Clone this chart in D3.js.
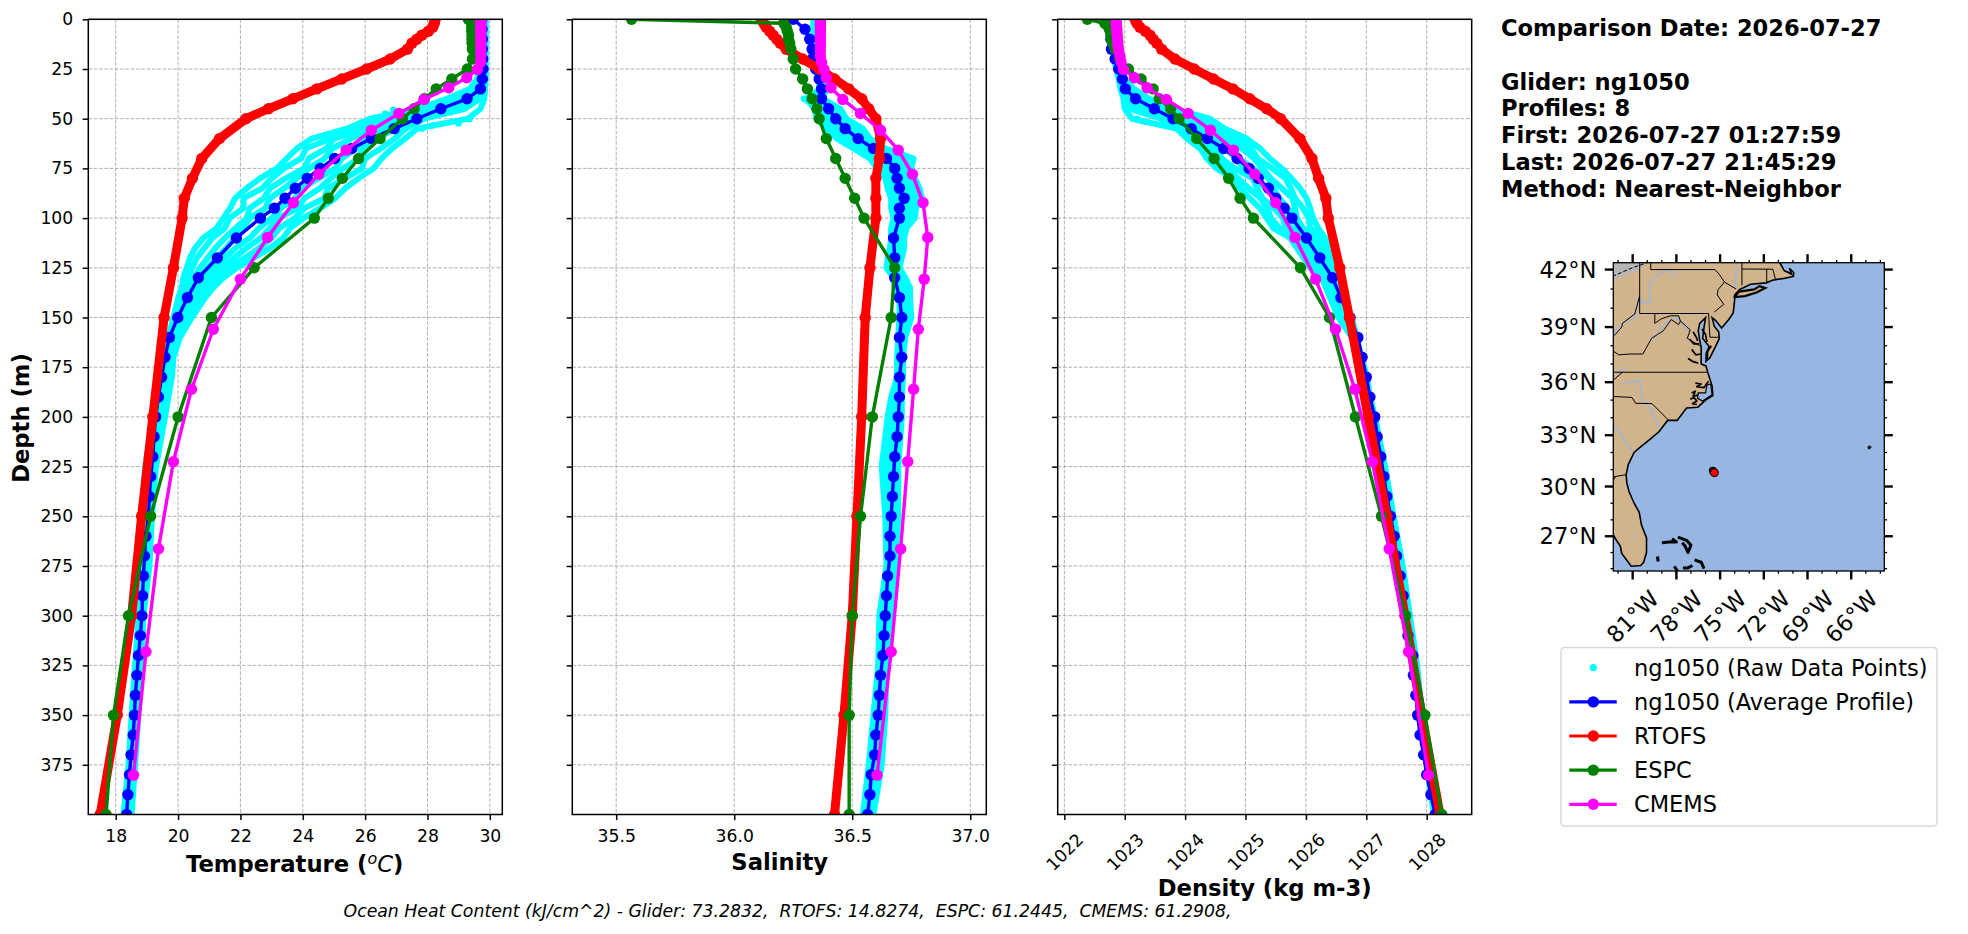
<!DOCTYPE html>
<html>
<head>
<meta charset="utf-8">
<script src="https://d3js.org/d3.v7.min.js"></script>
<style>
  body { margin: 0; background: #fff; }
  text { font-family: "DejaVu Sans", sans-serif; fill: #000; }
  .grid line { stroke: #b0b0b0; stroke-width: 1; stroke-dasharray: 3.7 1.6; }
  .tick line, .domain { stroke: #000; stroke-width: 1.5; }
</style>
</head>
<body>
<div id="chart"></div>
<script>
// glider average profile
var gliderDepth = [0,5,10,15,20,25,30,35,40,45,50,55,60,65,70,75,80,85,90,95,100,110,120,130,140,150,160,170,180,190,200,210,220,230,240,250,260,270,280,290,300,310,320,330,340,350,360,370,380,390,400];
var gliderTemp = [29.74,29.75,29.76,29.76,29.77,29.78,29.76,29.7,29.27,28.43,27.66,26.93,26.2,25.57,25.02,24.56,24.14,23.76,23.43,23.09,22.64,21.87,21.26,20.65,20.3,19.99,19.72,19.58,19.47,19.37,19.28,19.23,19.19,19.12,19.08,19.05,18.97,18.92,18.89,18.86,18.84,18.79,18.73,18.68,18.63,18.6,18.56,18.49,18.44,18.39,18.35];
var gliderSal = [36.25,36.3,36.32,36.33,36.33,36.345,36.36,36.37,36.37,36.4,36.43,36.47,36.525,36.59,36.645,36.68,36.69,36.7,36.72,36.7,36.7,36.675,36.68,36.68,36.7,36.71,36.7,36.71,36.7,36.7,36.695,36.69,36.68,36.675,36.67,36.665,36.66,36.66,36.65,36.645,36.64,36.635,36.63,36.62,36.615,36.61,36.6,36.595,36.58,36.575,36.565];
var gliderDens = [1022.75,1022.76,1022.77,1022.78,1022.84,1022.9,1022.96,1023.01,1023.18,1023.49,1023.8,1024.1,1024.37,1024.64,1024.86,1025.06,1025.21,1025.38,1025.5,1025.64,1025.77,1026.01,1026.23,1026.44,1026.58,1026.73,1026.86,1026.93,1027,1027.06,1027.14,1027.18,1027.24,1027.29,1027.34,1027.4,1027.46,1027.5,1027.56,1027.61,1027.65,1027.69,1027.77,1027.78,1027.82,1027.85,1027.89,1027.95,1028,1028.07,1028.14];

// RTOFS and ESPC share depth levels
var modelDepth = [0,2,4,6,8,10,12,15,20,25,30,35,40,45,50,60,70,80,90,100,125,150,200,250,300,350,400];
var rtofsTemp = [28.25,28.22,28.17,28.03,27.82,27.66,27.5,27.36,26.8,26.05,25.25,24.45,23.68,22.9,22.18,21.33,20.76,20.46,20.2,20.13,19.85,19.55,19.19,18.83,18.51,18.05,17.5];
var rtofsSal = [36.115,36.125,36.135,36.15,36.165,36.18,36.195,36.22,36.29,36.36,36.425,36.485,36.54,36.57,36.6,36.62,36.615,36.6,36.6,36.6,36.575,36.555,36.54,36.52,36.5,36.465,36.425];
var rtofsDens = [1023.17,1023.2,1023.25,1023.34,1023.42,1023.47,1023.53,1023.61,1023.83,1024.15,1024.47,1024.79,1025.07,1025.35,1025.58,1025.9,1026.1,1026.21,1026.33,1026.37,1026.56,1026.72,1027.03,1027.34,1027.64,1027.92,1028.22];
var espcTemp = [29.31,29.42,29.42,29.42,29.43,29.43,29.43,29.44,29.44,29.28,28.78,28.28,27.9,27.57,27.2,26.48,25.79,25.27,24.82,24.37,22.44,21.07,20,19.12,18.41,17.93,17.69];
var espcSal = [35.565,36.21,36.22,36.225,36.23,36.23,36.235,36.24,36.25,36.26,36.29,36.31,36.33,36.35,36.36,36.39,36.43,36.47,36.51,36.55,36.68,36.665,36.585,36.535,36.5,36.487,36.487];
var espcDens = [1022.38,1022.67,1022.73,1022.76,1022.77,1022.78,1022.8,1022.84,1022.92,1023.06,1023.27,1023.47,1023.57,1023.76,1023.9,1024.19,1024.48,1024.72,1024.91,1025.13,1025.91,1026.39,1026.82,1027.25,1027.65,1027.97,1028.25];

// CMEMS
var cmemsDepth = [0.5,1.5,2.6,3.8,5.1,6.4,7.9,9.6,11.4,13.5,15.8,18.5,21.6,25.2,29.4,34.4,40.3,47.4,55.8,65.8,77.9,92.3,109.7,130.7,155.9,186.1,222.5,266.4,318.1,380.2];
var cmemsTemp = [29.71,29.71,29.71,29.71,29.71,29.71,29.71,29.71,29.71,29.71,29.71,29.71,29.7,29.6,29.26,28.68,27.89,27.08,26.2,25.39,24.51,23.7,22.87,22,21.13,20.43,19.85,19.37,18.97,18.57];
var cmemsSal = [36.365,36.365,36.365,36.365,36.365,36.365,36.365,36.365,36.365,36.365,36.365,36.365,36.37,36.38,36.39,36.41,36.46,36.535,36.62,36.695,36.755,36.8,36.82,36.805,36.78,36.76,36.735,36.705,36.665,36.605];
var cmemsDens = [1022.855,1022.86,1022.86,1022.865,1022.87,1022.87,1022.875,1022.88,1022.885,1022.89,1022.9,1022.92,1022.94,1022.98,1023.16,1023.37,1023.69,1024.05,1024.42,1024.8,1025.15,1025.5,1025.82,1026.16,1026.49,1026.81,1027.1,1027.38,1027.7,1028.03];

// raw glider samples, one row per depth, one column per profile
var rawDepth = [0,10,20,30,35,40,45,50,55,60,65,70,75,80,85,90,95,100,105,110,115,120,125,130,135,140,150,160,170,180,190,200,225,250,275,300,325,350,375,400];
var rawTemp = [
  [29.72,29.75,29.78,29.8,29.82,29.84,29.85,29.87],
  [29.71,29.74,29.77,29.8,29.82,29.84,29.86,29.87],
  [29.7,29.73,29.76,29.79,29.81,29.83,29.85,29.87],
  [29.6,29.72,29.76,29.78,29.8,29.82,29.85,29.87],
  [29.35,29.45,29.55,29.62,29.72,29.78,29.82,29.85],
  [28.62,28.8,29,29.2,29.35,29.5,29.68,29.82],
  [27.7,27.9,28.1,28.3,28.5,28.8,29.2,29.7],
  [26.16,26.5,26.85,27.1,27.4,27.65,27.9,29.3],
  [25.41,25.7,26,26.25,26.7,27,27.3,27.66],
  [24.29,24.9,25,25.55,26.1,26.35,26.95,27.28],
  [23.81,24.1,24.75,24.95,25.7,25.9,26.5,26.86],
  [23.49,23.95,24.2,24.7,25.25,25.8,26,26.53],
  [23.17,23.4,24.05,24.2,25.05,25.3,25.9,26.27],
  [22.63,23,23.45,23.8,24.5,24.9,25.35,25.79],
  [22.2,22.7,22.95,23.4,24,24.55,24.8,25.36],
  [21.83,22.1,22.75,22.95,23.75,24.05,24.7,25.04],
  [21.67,22.1,22.3,22.8,23.3,23.85,24.05,24.56],
  [21.45,21.65,22.2,22.3,23,23.2,23.75,24.02],
  [21.24,21.5,21.85,22.1,22.6,22.95,23.25,23.59],
  [20.81,21.1,21.5,21.8,22.3,22.65,23,23.38],
  [20.55,20.85,21.2,21.55,21.85,22.2,22.6,22.95],
  [20.38,20.6,20.95,21.25,21.5,21.8,22.15,22.42],
  [20.28,20.45,20.7,20.95,21.15,21.4,21.65,21.88],
  [20.17,20.33,20.52,20.7,20.87,21.05,21.25,21.45],
  [20.12,20.25,20.4,20.52,20.66,20.8,20.97,21.13],
  [20.01,20.12,20.25,20.37,20.48,20.6,20.73,20.87],
  [19.85,19.92,20.02,20.1,20.17,20.26,20.35,20.44],
  [19.69,19.74,19.79,19.85,19.89,19.95,20,20.06],
  [19.58,19.61,19.66,19.69,19.73,19.77,19.81,19.85],
  [19.48,19.52,19.57,19.61,19.66,19.7,19.75,19.8],
  [19.37,19.41,19.46,19.5,19.55,19.6,19.64,19.69],
  [19.21,19.26,19.31,19.37,19.41,19.47,19.53,19.58],
  [18.94,18.98,19.04,19.09,19.13,19.18,19.24,19.29],
  [18.83,18.87,18.92,18.97,19.01,19.06,19.11,19.16],
  [18.83,18.86,18.9,18.94,18.97,19,19.04,19.08],
  [18.73,18.75,18.77,18.8,18.82,18.84,18.87,18.89],
  [18.62,18.65,18.68,18.71,18.73,18.76,18.8,18.83],
  [18.51,18.54,18.57,18.6,18.63,18.66,18.7,18.73],
  [18.41,18.44,18.47,18.5,18.53,18.56,18.59,18.62],
  [18.25,18.29,18.33,18.36,18.4,18.43,18.47,18.51]
];
var rawSal = [
  [36.335,36.34,36.345,36.35,36.355,36.36,36.365,36.37],
  [36.335,36.34,36.345,36.35,36.355,36.36,36.365,36.37],
  [36.34,36.345,36.35,36.352,36.355,36.36,36.365,36.37],
  [36.355,36.357,36.36,36.362,36.365,36.367,36.37,36.372],
  [36.365,36.368,36.37,36.375,36.378,36.382,36.386,36.39],
  [36.305,36.32,36.33,36.34,36.35,36.36,36.368,36.375],
  [36.34,36.355,36.37,36.385,36.4,36.42,36.435,36.45],
  [36.35,36.37,36.39,36.41,36.425,36.445,36.46,36.475],
  [36.39,36.41,36.43,36.455,36.475,36.5,36.525,36.545],
  [36.435,36.455,36.475,36.495,36.515,36.535,36.555,36.575],
  [36.505,36.525,36.545,36.565,36.585,36.605,36.625,36.64],
  [36.575,36.6,36.625,36.65,36.675,36.7,36.73,36.76],
  [36.605,36.625,36.645,36.665,36.69,36.71,36.73,36.75],
  [36.64,36.655,36.67,36.685,36.7,36.72,36.745,36.765],
  [36.65,36.67,36.685,36.7,36.72,36.74,36.76,36.785],
  [36.665,36.68,36.7,36.715,36.735,36.755,36.775,36.795],
  [36.665,36.68,36.695,36.71,36.725,36.74,36.755,36.77],
  [36.675,36.69,36.7,36.715,36.725,36.74,36.75,36.765],
  [36.665,36.675,36.68,36.69,36.7,36.71,36.72,36.73],
  [36.665,36.67,36.68,36.685,36.695,36.705,36.71,36.72],
  [36.66,36.67,36.675,36.685,36.69,36.7,36.71,36.72],
  [36.65,36.66,36.665,36.675,36.68,36.69,36.7,36.71],
  [36.645,36.65,36.66,36.665,36.675,36.68,36.69,36.7],
  [36.675,36.68,36.685,36.69,36.695,36.7,36.71,36.725],
  [36.68,36.69,36.695,36.7,36.71,36.72,36.735,36.745],
  [36.7,36.705,36.71,36.715,36.72,36.73,36.74,36.745],
  [36.7,36.705,36.71,36.72,36.725,36.735,36.745,36.75],
  [36.695,36.7,36.7,36.705,36.71,36.715,36.72,36.725],
  [36.69,36.695,36.695,36.7,36.7,36.705,36.71,36.715],
  [36.69,36.695,36.695,36.7,36.7,36.705,36.71,36.715],
  [36.665,36.67,36.68,36.685,36.69,36.695,36.7,36.71],
  [36.65,36.66,36.665,36.675,36.68,36.69,36.7,36.71],
  [36.625,36.635,36.645,36.655,36.665,36.675,36.685,36.695],
  [36.64,36.645,36.655,36.66,36.67,36.675,36.685,36.695],
  [36.645,36.65,36.655,36.66,36.665,36.67,36.675,36.68],
  [36.615,36.62,36.625,36.635,36.64,36.645,36.655,36.66],
  [36.61,36.615,36.62,36.625,36.63,36.635,36.64,36.645],
  [36.59,36.6,36.605,36.61,36.62,36.625,36.63,36.64],
  [36.57,36.58,36.585,36.595,36.6,36.61,36.615,36.625],
  [36.545,36.55,36.555,36.565,36.57,36.575,36.585,36.59]
];
var rawDens = [
  [1022.78,1022.79,1022.8,1022.81,1022.82,1022.83,1022.83,1022.84],
  [1022.79,1022.8,1022.81,1022.82,1022.83,1022.84,1022.85,1022.86],
  [1022.82,1022.83,1022.84,1022.85,1022.86,1022.87,1022.88,1022.9],
  [1022.9,1022.91,1022.93,1022.94,1022.95,1022.97,1022.98,1023],
  [1022.93,1022.95,1022.98,1023,1023.04,1023.08,1023.12,1023.15],
  [1022.98,1023.02,1023.07,1023.13,1023.2,1023.27,1023.33,1023.4],
  [1023,1023.08,1023.2,1023.32,1023.44,1023.56,1023.68,1023.8],
  [1023.12,1023.6,1023.85,1024,1024.1,1024.2,1024.3,1024.41],
  [1023.86,1023.97,1024.08,1024.2,1024.31,1024.42,1024.54,1024.66],
  [1024.03,1024.17,1024.31,1024.45,1024.58,1024.72,1024.87,1025.02],
  [1024.25,1024.39,1024.53,1024.66,1024.8,1024.94,1025.09,1025.24],
  [1024.36,1024.55,1024.6,1024.85,1024.9,1025.14,1025.2,1025.4],
  [1024.52,1024.67,1024.82,1024.97,1025.12,1025.28,1025.44,1025.6],
  [1024.8,1024.88,1025.12,1025.15,1025.38,1025.42,1025.66,1025.76],
  [1024.91,1025.05,1025.19,1025.33,1025.46,1025.6,1025.75,1025.9],
  [1025.07,1025.25,1025.28,1025.5,1025.56,1025.78,1025.82,1026.01],
  [1025.24,1025.36,1025.47,1025.59,1025.7,1025.82,1025.95,1026.07],
  [1025.35,1025.42,1025.62,1025.63,1025.82,1025.85,1026.05,1026.12],
  [1025.46,1025.56,1025.66,1025.76,1025.85,1025.95,1026.07,1026.2],
  [1025.74,1025.82,1025.9,1025.98,1026.06,1026.14,1026.23,1026.32],
  [1025.85,1025.92,1026,1026.07,1026.14,1026.21,1026.29,1026.37],
  [1025.96,1026.03,1026.09,1026.16,1026.22,1026.29,1026.36,1026.43],
  [1026.07,1026.13,1026.18,1026.24,1026.3,1026.36,1026.42,1026.48],
  [1026.26,1026.29,1026.33,1026.36,1026.4,1026.43,1026.47,1026.51],
  [1026.33,1026.36,1026.39,1026.43,1026.46,1026.49,1026.53,1026.56],
  [1026.4,1026.43,1026.46,1026.49,1026.52,1026.55,1026.59,1026.62],
  [1026.54,1026.57,1026.6,1026.63,1026.66,1026.69,1026.73,1026.76],
  [1026.76,1026.77,1026.78,1026.8,1026.81,1026.82,1026.83,1026.84],
  [1026.87,1026.88,1026.885,1026.89,1026.9,1026.905,1026.91,1026.92],
  [1026.98,1026.985,1026.99,1026.99,1026.995,1027,1027,1027.01],
  [1027.03,1027.035,1027.04,1027.045,1027.05,1027.05,1027.055,1027.06],
  [1027.12,1027.12,1027.125,1027.13,1027.13,1027.135,1027.14,1027.14],
  [1027.28,1027.285,1027.29,1027.29,1027.295,1027.3,1027.3,1027.31],
  [1027.42,1027.425,1027.43,1027.43,1027.435,1027.44,1027.445,1027.45],
  [1027.58,1027.58,1027.585,1027.59,1027.59,1027.595,1027.6,1027.6],
  [1027.68,1027.685,1027.69,1027.7,1027.705,1027.71,1027.715,1027.72],
  [1027.8,1027.805,1027.81,1027.82,1027.825,1027.83,1027.835,1027.84],
  [1027.88,1027.885,1027.89,1027.9,1027.905,1027.91,1027.915,1027.92],
  [1028,1028.005,1028.01,1028.02,1028.025,1028.03,1028.035,1028.04],
  [1028.12,1028.125,1028.13,1028.14,1028.145,1028.15,1028.155,1028.16]
];

// lone raw dots off the strands
var strayDepthT = [52.4,50.3,53.3,55,47.4,45.5];
var strayTemp = [29,29.35,28.19,27.82,26.64,26.9];
var strayDepthS = [40,41];
var straySal = [36.295,36.31];
var strayDepthD = [50,51.5,52.7];
var strayDens = [1023.21,1023.35,1023.64];

var depthTicks = [0,25,50,75,100,125,150,175,200,225,250,275,300,325,350,375];
var tempTicks = [18,20,22,24,26,28,30];
var salTicks = [35.5,36,36.5,37];
var densTicks = [1022,1023,1024,1025,1026,1027,1028];

var infoLines = ["Comparison Date: 2026-07-27","","Glider: ng1050","Profiles: 8","First: 2026-07-27 01:27:59","Last: 2026-07-27 21:45:29","Method: Nearest-Neighbor"];
var ohcText = "Ocean Heat Content (kJ/cm^2) - Glider: 73.2832,  RTOFS: 14.8274,  ESPC: 61.2445,  CMEMS: 61.2908,";
var legendLabels = ["ng1050 (Raw Data Points)","ng1050 (Average Profile)","RTOFS","ESPC","CMEMS"];
var legendColors = ["#00ffff","#0000ff","#ff0000","#008000","#ff00ff"];

// map features, lon/lat
var lonTicks = [-81,-78,-75,-72,-69,-66];
var latTicks = [27,30,33,36,39,42];
var landOutline = [[-83,43],[-70.9,43],[-70.9,42.35],[-70.6,41.95],[-70.1,41.77],[-70.25,42.07],[-69.95,41.85],[-69.97,41.65],[-70.6,41.55],[-71.1,41.5],[-71.4,41.45],[-71.85,41.32],[-72.9,41.25],[-73.65,40.98],[-74,40.7],[-74,40.45],[-74.1,39.75],[-74.4,39.4],[-74.9,38.95],[-75.3,39.35],[-75.55,39.5],[-75.4,39.05],[-75.1,38.75],[-75.05,38.4],[-75.35,37.9],[-75.7,37.35],[-75.97,37.15],[-75.95,37.6],[-75.75,37.95],[-76.2,38.4],[-76.1,39],[-76,39.5],[-76.4,39.2],[-76.5,38.8],[-76.4,38.3],[-76.3,37.9],[-76.3,37.5],[-76.3,37],[-75.97,36.9],[-75.85,36.55],[-75.55,35.8],[-75.5,35.25],[-76,35],[-76.53,34.6],[-77.3,34.55],[-77.95,33.85],[-78.6,33.85],[-79.2,33.2],[-79.9,32.7],[-80.5,32.3],[-80.9,32],[-81.3,31.3],[-81.45,30.7],[-81.4,30.2],[-81.25,29.7],[-80.9,29],[-80.55,28.45],[-80.4,27.7],[-80.05,26.9],[-80.05,26],[-80.25,25.4],[-80.45,25.2],[-81.1,25.15],[-81.75,25.95],[-81.85,26.4],[-82.15,26.8],[-82.45,27.3],[-82.8,27.9],[-83,28.5]];
var longIsland = [[-74,40.6],[-73.7,40.87],[-72.65,40.98],[-72.3,41.15],[-71.9,41.05],[-72.5,40.82],[-73.3,40.63],[-74,40.58]];
var pamlico = [[-75.65,35.9],[-75.55,35.3],[-76.2,34.95],[-76.55,35.1],[-76.5,35.4],[-76,35.4],[-75.9,35.85]];
var lakeErie = [[-83,42.5],[-79.85,42.5],[-80.5,42],[-83,41.3]];
var okeechobee = [[-80.95,27.1],[-80.75,26.95],[-80.85,26.75],[-81.05,26.9]];
var borders = [
  [[-80.52,42.5],[-80.52,39.72],[-75.79,39.72],[-75.7,38.46],[-75.05,38.45]],
  [[-79.76,42.35],[-79.76,42],[-75.35,42],[-75.05,41.75],[-74.7,41.36],[-75.13,40.98],[-75.2,40.7],[-74.75,40.2],[-75.4,39.8]],
  [[-74.7,41.36],[-73.9,41]],
  [[-73.5,42.5],[-73.5,41.2]],
  [[-73.5,42.03],[-71.38,42.02],[-71.2,41.5]],
  [[-71.8,42.03],[-71.8,41.3]],
  [[-80.52,40.64],[-80.85,39.7],[-81.7,39.2],[-81.75,39],[-82.2,38.6],[-82.6,38.4]],
  [[-82.4,37.75],[-81.95,37.5],[-81.2,37.55],[-80.3,37.55],[-79.7,38.4],[-79.3,38.6],[-78.9,38.8],[-78.35,39.4],[-77.85,39.13],[-77.72,39.32]],
  [[-79.48,39.72],[-79.48,39.2],[-79,39.45],[-78.4,39.6],[-77.85,39.6],[-77.72,39.32],[-77.05,38.85],[-77.25,38.4],[-76.3,37.95]],
  [[-83,36.55],[-75.9,36.55]],
  [[-82.35,36.1],[-81.7,36.55]],
  [[-83.1,35],[-82.3,35.2],[-81.05,35.15],[-80.8,34.82],[-79.67,34.8],[-78.55,33.87]],
  [[-82.35,30.57],[-81.45,30.7]],
  [[-82.3,30.4],[-82.2,30.57]]
];
var rivers = [
  [[-77.98,41.64],[-78.55,42],[-79.12,41.82],[-79.81,41.38],[-79.81,40.3],[-80.38,40.3],[-80.61,40.57],[-80.84,39.5],[-81.64,39.23],[-82.2,38.8],[-82.33,38.43]],
  [[-73.86,42.3],[-73.97,41.1]],
  [[-79.7,38.25],[-79.12,38.87],[-78.44,39.4],[-77.98,39.5],[-77.18,38.8]],
  [[-81.64,35.92],[-80.5,36.1],[-80.38,35.07],[-79.92,34.7],[-79.12,33.38]],
  [[-82.33,36.46],[-81.53,36.77]],
  [[-82.33,33.66],[-81,32.04]]
];
var erieDash = [[-82.4,41.65],[-81,42.1],[-80,42.35]];
var islands = [
  [[-79,26.6],[-78.5,26.65],[-78,26.65],[-78.3,26.85]],
  [[-77.9,26.95],[-77.3,26.75],[-77,26.45],[-77.2,26],[-77.4,26.4],[-77.6,26.6]],
  [[-79.3,25.75],[-79.25,25.45]],
  [[-78.15,25.15],[-77.95,24.9],[-78.1,24.7]],
  [[-77.55,25.05],[-77.2,25.05],[-76.9,25.2]],
  [[-76.75,25.55],[-76.3,25.4],[-76.1,25]],
  [[-64.85,32.25],[-64.65,32.35]]
];
var estuaries = [
  [[-76.7,35.95],[-76.3,35.9],[-76.6,35.75],[-76.1,35.7],[-75.8,36.05]],
  [[-76.95,35.4],[-76.7,35.5],[-76.85,35.2],[-76.5,35.3]],
  [[-77.05,35.05],[-76.8,35.15],[-76.6,34.95],[-76.9,34.8],[-76.6,34.75]],
  [[-77.2,37.3],[-76.9,37.15],[-76.5,37.05]],
  [[-76.95,37.8],[-76.65,37.5],[-76.35,37.55]],
  [[-77.1,38.35],[-76.8,38.1],[-76.45,38.1]],
  [[-76.85,38.75],[-76.6,38.4],[-76.55,38.25]],
  [[-75.9,37.2],[-75.85,37.7],[-75.6,38]],
  [[-76.25,38.9],[-76,38.6],[-75.9,38.2]]
];
var gliderLon = [-75.5];
var gliderLat = [30.93];
var lastLon = [-75.39];
var lastLat = [30.82];

var svg = d3.select("#chart").append("svg").attr("width", 1968).attr("height", 934);

var top_ = 19.3, bottom_ = 814.5;
var yScale = d3.scaleLinear().domain([0, 400]).range([top_, bottom_]);

var panels = [
  {id:"t", left:88.3, right:502.3, domain:[17.12,30.40], ticks:tempTicks, fmt:d3.format("d"), raw:rawTemp, g:gliderTemp, r:rtofsTemp, e:espcTemp, c:cmemsTemp, sd:strayDepthT, sv:strayTemp},
  {id:"s", left:572.3, right:986.3, domain:[35.314,37.068], ticks:salTicks, fmt:d3.format(".1f"), raw:rawSal, g:gliderSal, r:rtofsSal, e:espcSal, c:cmemsSal, sd:strayDepthS, sv:straySal},
  {id:"d", left:1057.7, right:1471.7, domain:[1021.89,1028.745], ticks:densTicks, fmt:d3.format("d"), raw:rawDens, g:gliderDens, r:rtofsDens, e:espcDens, c:cmemsDens, sd:strayDepthD, sv:strayDens}
];

function drawProfile(g, x, depths, values, color, lineW) {
  var pts = depths.map(function(d, i) { return [d, values[i]]; });
  g.append("path").datum(pts)
    .attr("fill", "none").attr("stroke", color).attr("stroke-width", lineW)
    .attr("stroke-linejoin", "round")
    .attr("d", d3.line().x(function(d) { return x(d[1]); }).y(function(d) { return yScale(d[0]); }));
  g.selectAll(null).data(pts).enter().append("circle")
    .attr("cx", function(d) { return x(d[1]); })
    .attr("cy", function(d) { return yScale(d[0]); })
    .attr("r", 5.7).attr("fill", color);
}

panels.forEach(function(p, idx) {
  var x = d3.scaleLinear().domain(p.domain).range([p.left, p.right]);
  var panel = svg.append("g");

  panel.append("clipPath").attr("id", "clip-" + p.id).append("rect")
    .attr("x", p.left).attr("y", top_).attr("width", p.right - p.left).attr("height", bottom_ - top_);

  // grid
  var grid = panel.append("g").attr("class", "grid");
  grid.selectAll(null).data(p.ticks).enter().append("line")
    .attr("x1", function(d) { return x(d); }).attr("x2", function(d) { return x(d); })
    .attr("y1", top_).attr("y2", bottom_);
  grid.selectAll(null).data(depthTicks).enter().append("line")
    .attr("x1", p.left).attr("x2", p.right)
    .attr("y1", function(d) { return yScale(d); }).attr("y2", function(d) { return yScale(d); });

  var plot = panel.append("g").attr("clip-path", "url(#clip-" + p.id + ")");

  // raw points: 8 profiles, dots merge into strands
  d3.range(8).forEach(function(j) {
    var vals = p.raw.map(function(row) { return row[j]; });
    var pts = rawDepth.map(function(d, i) { return [d, vals[i]]; });
    plot.append("path").datum(pts)
      .attr("fill", "none").attr("stroke", "#00ffff").attr("stroke-width", 6)
      .attr("stroke-linejoin", "round").attr("stroke-linecap", "round")
      .attr("d", d3.line().x(function(d) { return x(d[1]); }).y(function(d) { return yScale(d[0]); }));
  });
  plot.selectAll(null).data(p.sd).enter().append("circle")
    .attr("cx", function(d, i) { return x(p.sv[i]); })
    .attr("cy", function(d) { return yScale(d); })
    .attr("r", 3.2).attr("fill", "#00ffff");

  drawProfile(plot, x, gliderDepth, p.g, "#0000ff", 3.4);
  drawProfile(plot, x, modelDepth, p.r, "#ff0000", 9);
  drawProfile(plot, x, modelDepth, p.e, "#008000", 3.4);
  drawProfile(plot, x, cmemsDepth, p.c, "#ff00ff", 3.4);

  // frame
  panel.append("rect").attr("x", p.left).attr("y", top_)
    .attr("width", p.right - p.left).attr("height", bottom_ - top_)
    .attr("fill", "none").attr("stroke", "#000").attr("stroke-width", 1.5);

  // axes
  var xAxis = panel.append("g").attr("transform", "translate(0," + bottom_ + ")")
    .call(d3.axisBottom(x).tickValues(p.ticks).tickFormat(p.fmt).tickSize(5.6).tickPadding(9.4));
  xAxis.select(".domain").remove();
  xAxis.selectAll("text").attr("font-size", 17.2);
  if (p.id === "d") {
    xAxis.selectAll("text")
      .attr("y", 0).attr("dy", 0)
      .attr("text-anchor", "middle")
      .attr("dominant-baseline", "central")
      .attr("transform", function() { return "translate(0,37.5) rotate(-45)"; });
  }

  var yAxis = panel.append("g").attr("transform", "translate(" + p.left + ",0)")
    .call(d3.axisLeft(yScale).tickValues(depthTicks).tickSize(5.6).tickPadding(9.5));
  yAxis.select(".domain").remove();
  yAxis.selectAll("text").attr("font-size", 17.2);
  if (idx > 0) yAxis.selectAll("text").remove();
});

// axis titles
var titleSize = 22.7;
var tempLabel = svg.append("text").attr("x", 294.7).attr("y", 871.5)
  .attr("text-anchor", "middle").attr("font-size", titleSize).attr("font-weight", "bold");
tempLabel.append("tspan").text("Temperature (");
tempLabel.append("tspan").attr("font-weight", "normal").attr("font-style", "italic").attr("font-size", 16).attr("dy", -8).text("o");
tempLabel.append("tspan").attr("font-weight", "normal").attr("font-style", "italic").attr("dy", 8).text("C");
tempLabel.append("tspan").text(")");

svg.append("text").attr("x", 779.7).attr("y", 869.5).attr("text-anchor", "middle")
  .attr("font-size", titleSize).attr("font-weight", "bold").text("Salinity");
svg.append("text").attr("x", 1264.7).attr("y", 895.5).attr("text-anchor", "middle")
  .attr("font-size", titleSize).attr("font-weight", "bold").text("Density (kg m-3)");
svg.append("text").attr("transform", "translate(29,418) rotate(-90)").attr("text-anchor", "middle")
  .attr("font-size", titleSize).attr("font-weight", "bold").text("Depth (m)");

// bottom note
svg.append("text").attr("x", 787.5).attr("y", 917).attr("text-anchor", "middle")
  .attr("font-size", 17.3).attr("font-style", "italic").style("white-space", "pre").text(ohcText);

// info block
svg.append("g").selectAll("text").data(infoLines).enter().append("text")
  .attr("x", 1501).attr("y", function(d, i) { return 36 + i * 26.8; })
  .attr("font-size", 22.6).attr("font-weight", "bold").text(function(d) { return d; });

// map
var mapL = 1613.3, mapR = 1884.3, mapT = 262.7, mapB = 571;
var proj = d3.geoMercator().scale(834.8).center([-82.33, 42.35]).translate([mapL, mapT]);
var geoLine = d3.line().x(function(d) { return proj(d)[0]; }).y(function(d) { return proj(d)[1]; });

var mapG = svg.append("g");
mapG.append("clipPath").attr("id", "clip-map").append("rect")
  .attr("x", mapL).attr("y", mapT).attr("width", mapR - mapL).attr("height", mapB - mapT);
var mapPlot = mapG.append("g").attr("clip-path", "url(#clip-map)");
mapPlot.append("rect").attr("x", mapL).attr("y", mapT).attr("width", mapR - mapL).attr("height", mapB - mapT).attr("fill", "#97b6e1");
mapPlot.append("path").attr("d", geoLine(landOutline) + "Z").attr("fill", "#d2b48c").attr("stroke", "#000").attr("stroke-width", 1.6);
mapPlot.append("path").attr("d", geoLine(lakeErie) + "Z").attr("fill", "#b6b6b6");
mapPlot.append("path").attr("d", geoLine(okeechobee) + "Z").attr("fill", "#b6b6b6");
mapPlot.append("path").attr("d", geoLine(erieDash)).attr("fill", "none").attr("stroke", "#000").attr("stroke-width", 1).attr("stroke-dasharray", "4 2");
mapPlot.append("path").attr("d", geoLine(pamlico) + "Z").attr("fill", "#97b6e1").attr("stroke", "#000").attr("stroke-width", 1.2);
mapPlot.append("path").attr("d", geoLine(longIsland) + "Z").attr("fill", "#d2b48c").attr("stroke", "#000").attr("stroke-width", 2.2);
mapPlot.selectAll(null).data(rivers).enter().append("path").attr("d", geoLine)
  .attr("fill", "none").attr("stroke", "#97b6e1").attr("stroke-width", 1.3);
mapPlot.selectAll(null).data(borders).enter().append("path").attr("d", geoLine)
  .attr("fill", "none").attr("stroke", "#000").attr("stroke-width", 1);
mapPlot.selectAll(null).data(estuaries).enter().append("path").attr("d", geoLine)
  .attr("fill", "none").attr("stroke", "#000").attr("stroke-width", 1.7).attr("stroke-linejoin", "round");
mapPlot.selectAll(null).data(islands).enter().append("path").attr("d", geoLine)
  .attr("fill", "none").attr("stroke", "#000").attr("stroke-width", 3).attr("stroke-linejoin", "round");
mapPlot.selectAll(null).data(gliderLon).enter().append("circle")
  .attr("cx", function(d, i) { return proj([d, gliderLat[i]])[0]; })
  .attr("cy", function(d, i) { return proj([d, gliderLat[i]])[1]; })
  .attr("r", 4).attr("fill", "#000");
mapPlot.selectAll(null).data(lastLon).enter().append("circle")
  .attr("cx", function(d, i) { return proj([d, lastLat[i]])[0]; })
  .attr("cy", function(d, i) { return proj([d, lastLat[i]])[1]; })
  .attr("r", 4).attr("fill", "#ff0000").attr("stroke", "#000").attr("stroke-width", 1);
mapG.append("rect").attr("x", mapL).attr("y", mapT).attr("width", mapR - mapL).attr("height", mapB - mapT)
  .attr("fill", "none").attr("stroke", "#000").attr("stroke-width", 1.3);

// map ticks on all four sides, majors plus 1 degree minors
var lonMinor = d3.range(-82, -63).filter(function(d) { return lonTicks.indexOf(d) < 0; });
var latMinor = d3.range(25, 43).filter(function(d) { return latTicks.indexOf(d) < 0; });
function tickSet(values, len, w) {
  values.forEach(function(v) {
    var px = proj([v, 30])[0];
    mapG.append("line").attr("x1", px).attr("x2", px).attr("y1", mapB).attr("y2", mapB + len).attr("stroke", "#000").attr("stroke-width", w);
    mapG.append("line").attr("x1", px).attr("x2", px).attr("y1", mapT).attr("y2", mapT - len).attr("stroke", "#000").attr("stroke-width", w);
  });
}
function latTickSet(values, len, w) {
  values.forEach(function(v) {
    var py = proj([-75, v])[1];
    mapG.append("line").attr("y1", py).attr("y2", py).attr("x1", mapL).attr("x2", mapL - len).attr("stroke", "#000").attr("stroke-width", w);
    mapG.append("line").attr("y1", py).attr("y2", py).attr("x1", mapR).attr("x2", mapR + len).attr("stroke", "#000").attr("stroke-width", w);
  });
}
tickSet(lonTicks, 8.5, 2.4);
tickSet(lonMinor, 2.8, 1.3);
latTickSet(latTicks, 8.5, 2.4);
latTickSet(latMinor, 2.8, 1.3);

mapG.selectAll(null).data(latTicks).enter().append("text")
  .attr("x", 1596.5).attr("y", function(d) { return proj([-75, d])[1]; })
  .attr("text-anchor", "end").attr("dominant-baseline", "central").attr("font-size", 22.6)
  .text(function(d) { return d + "°N"; });
mapG.selectAll(null).data(lonTicks).enter().append("text")
  .attr("text-anchor", "middle").attr("dominant-baseline", "central").attr("font-size", 22.6)
  .attr("transform", function(d) { return "translate(" + proj([d, 30])[0] + ",616.5) rotate(-45)"; })
  .text(function(d) { return Math.abs(d) + "°W"; });

// legend
var legY = d3.scaleLinear().domain([0, 4]).range([667.7, 804.3]);
var legend = svg.append("g");
legend.append("rect").attr("x", 1561).attr("y", 647.5).attr("width", 376).attr("height", 178.5)
  .attr("rx", 3.5).attr("fill", "#fff").attr("stroke", "#d9d9d9").attr("stroke-width", 1.5);
legendLabels.forEach(function(label, i) {
  if (i > 0) {
    legend.append("line").attr("x1", 1569.3).attr("x2", 1616.7).attr("y1", legY(i)).attr("y2", legY(i))
      .attr("stroke", legendColors[i]).attr("stroke-width", 3.2);
  }
  legend.append("circle").attr("cx", 1593.3).attr("cy", legY(i)).attr("r", i === 0 ? 3.6 : 5.7).attr("fill", legendColors[i]);
  legend.append("text").attr("x", 1634).attr("y", legY(i)).attr("dominant-baseline", "central")
    .attr("font-size", 22.5).text(label);
});
</script>
</body>
</html>
